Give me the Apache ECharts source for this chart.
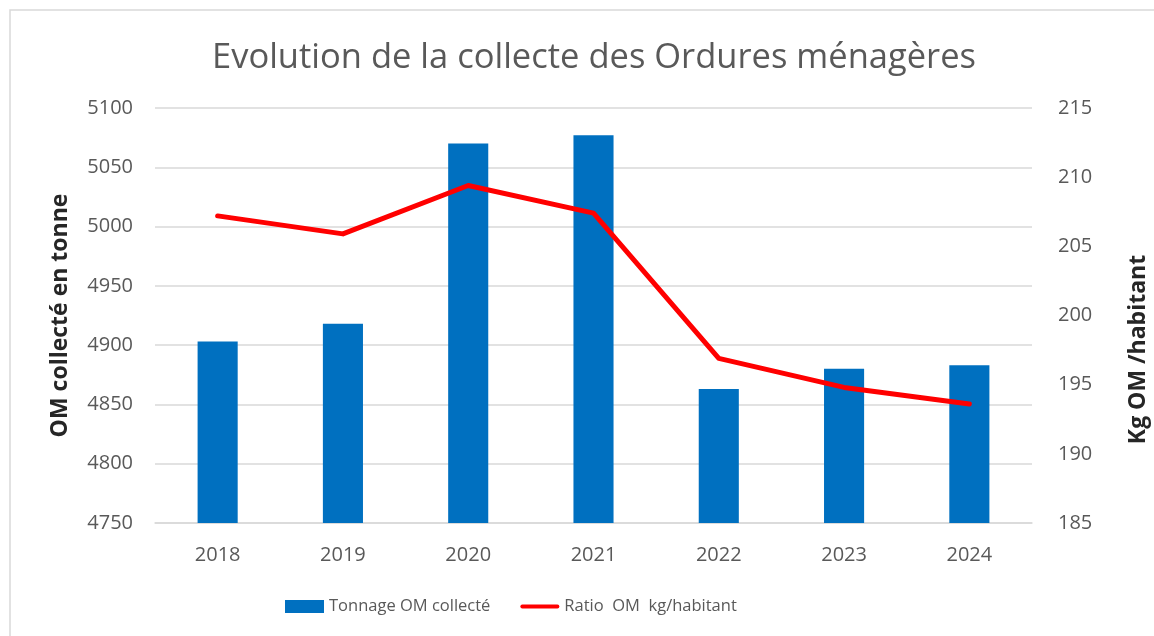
<!DOCTYPE html>
<html>
<head>
<meta charset="utf-8">
<script src="https://cdn.jsdelivr.net/npm/echarts@6/dist/echarts.min.js"></script>
<style>
  html, body { margin: 0; padding: 0; background: #fff; }
  #chart { width: 1154px; height: 636px; }
</style>
</head>
<body>
<div id="chart"></div>
<script>
const years = ["2018", "2019", "2020", "2021", "2022", "2023", "2024"];
const tonnage = [4903, 4918, 5070, 5077, 4863, 4880, 4883];
const ratio = [207.2, 205.9, 209.4, 207.4, 196.9, 194.8, 193.6];

const font = "'Open Sans', 'Liberation Sans', sans-serif";
const textGrey = "#595959";
const gridGrey = "#d9d9d9";

const mychart = echarts.init(document.getElementById("chart"));
mychart.setOption({
  animation: false,
  textStyle: { fontFamily: font },
  graphic: [
    {
      type: "rect",
      shape: { x: 10, y: 10, width: 1170, height: 650 },
      style: { fill: "none", stroke: "#d9d9d9", lineWidth: 1.5 },
      silent: true,
    },
  ],
  title: {
    text: "Evolution de la collecte des Ordures ménagères",
    left: 589,
    textAlign: "center",
    top: 36,
    textStyle: { fontFamily: font, fontSize: 34.5, fontWeight: "normal", color: textGrey },
  },
  legend: {
    bottom: 16,
    left: 280,
    itemGap: 30,
    textStyle: { fontFamily: font, fontSize: 16.5, color: textGrey },
    data: [
      { name: "Tonnage OM collecté", icon: "rect", itemStyle: { color: "#0070c0" } },
      {
        name: "Ratio  OM  kg/habitant",
        icon: "path://M2,0 H38 A2,2 0 0 1 38,4 H2 A2,2 0 0 1 2,0 Z",
        itemStyle: { color: "#ff0000" },
      },
    ],
    itemWidth: 39,
    itemHeight: 13,
  },
  grid: { left: 155, right: 122, top: 108, bottom: 113, outerBoundsMode: "none" },
  xAxis: {
    type: "category",
    data: years,
    axisLine: { lineStyle: { color: gridGrey, width: 1.5 } },
    axisTick: { show: false },
    axisLabel: { color: textGrey, fontSize: 20, margin: 22, fontFamily: font },
  },
  yAxis: [
    {
      type: "value",
      min: 4750,
      max: 5100,
      interval: 50,
      name: "OM collecté en tonne",
      nameLocation: "middle",
      nameGap: 83,
      nameTextStyle: { fontSize: 23, fontWeight: "bold", color: "#262626", fontFamily: font },
      axisLine: { show: false },
      axisTick: { show: false },
      axisLabel: { color: textGrey, fontSize: 20, margin: 22, fontFamily: font, formatter: (v) => String(v) },
      splitLine: { lineStyle: { color: gridGrey, width: 1.5 } },
    },
    {
      type: "value",
      min: 185,
      max: 215,
      interval: 5,
      name: "Kg OM /habitant",
      nameLocation: "middle",
      nameGap: 95,
      nameTextStyle: {
        fontSize: 23,
        fontWeight: "bold",
        color: "#262626",
        fontFamily: font,
        padding: [0, 68, 0, 0],
      },
      axisLine: { show: false },
      axisTick: { show: false },
      axisLabel: { color: textGrey, fontSize: 20, margin: 26, fontFamily: font },
      splitLine: { show: false },
    },
  ],
  series: [
    {
      name: "Tonnage OM collecté",
      type: "bar",
      data: tonnage,
      barWidth: "32%",
      itemStyle: { color: "#0070c0" },
    },
    {
      name: "Ratio  OM  kg/habitant",
      type: "line",
      yAxisIndex: 1,
      data: ratio,
      symbol: "none",
      lineStyle: { color: "#ff0000", width: 5, cap: "round", join: "round" },
      itemStyle: { color: "#ff0000" },
    },
  ],
});
</script>
</body>
</html>
